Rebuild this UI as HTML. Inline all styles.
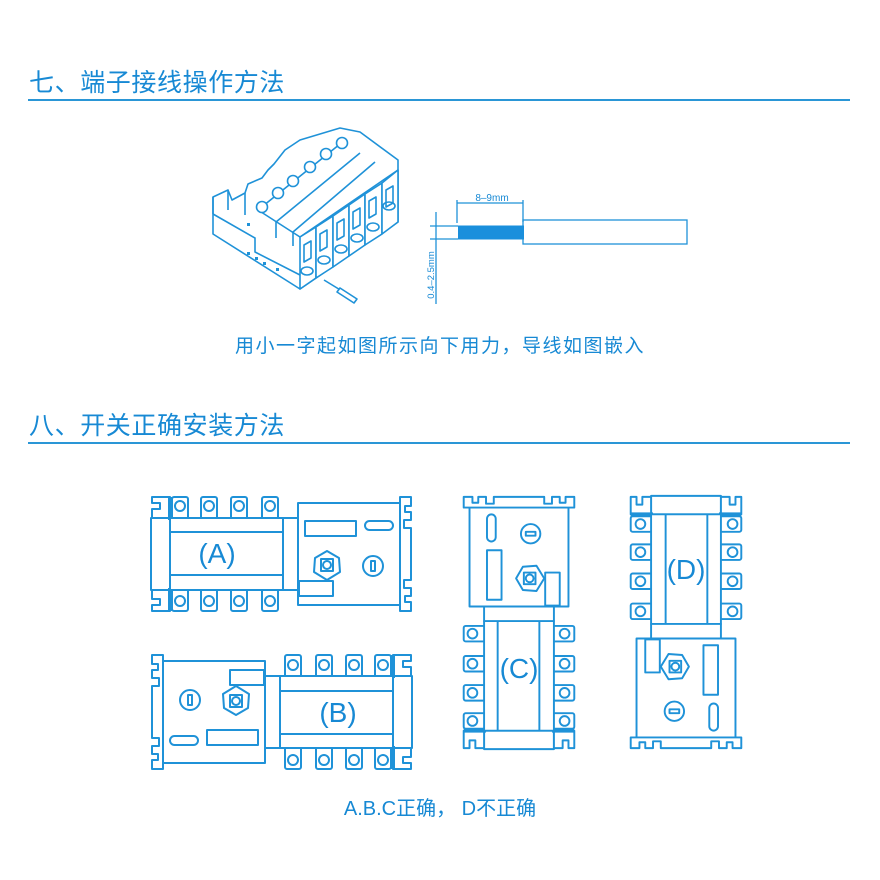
<!DOCTYPE html>
<html><head><meta charset="utf-8"><style>
html,body{margin:0;padding:0;background:#fff;}
svg{display:block;}
text{font-family:"Liberation Sans","Noto Sans CJK SC",sans-serif;fill:#1789d4;}
</style></head><body>
<svg width="880" height="880" viewBox="0 0 880 880" xmlns="http://www.w3.org/2000/svg">
<defs>
<g id="sw" fill="#fff" stroke="#1f92d8" stroke-width="2" stroke-linejoin="round">
  <rect x="151" y="518" width="19" height="72"/>
  <path d="M170,497 H152 V503 H160 V509 H152 V518 H170 Z"/>
  <path d="M170,611 H152 V605 H160 V599 H152 V590 H170 Z"/>
  <rect x="168" y="497" width="4" height="23" fill="#1f92d8" stroke="none"/>
  <rect x="168" y="588" width="4" height="23" fill="#1f92d8" stroke="none"/>
  <rect x="172" y="497" width="16" height="22" rx="2"/><circle cx="180" cy="506" r="5"/>
  <rect x="201" y="497" width="16" height="22" rx="2"/><circle cx="209" cy="506" r="5"/>
  <rect x="231" y="497" width="16" height="22" rx="2"/><circle cx="239" cy="506" r="5"/>
  <rect x="262" y="497" width="16" height="22" rx="2"/><circle cx="270" cy="506" r="5"/>
  <rect x="172" y="589" width="16" height="22" rx="2"/><circle cx="180" cy="601" r="5"/>
  <rect x="201" y="589" width="16" height="22" rx="2"/><circle cx="209" cy="601" r="5"/>
  <rect x="231" y="589" width="16" height="22" rx="2"/><circle cx="239" cy="601" r="5"/>
  <rect x="262" y="589" width="16" height="22" rx="2"/><circle cx="270" cy="601" r="5"/>
  <rect x="170" y="518" width="113" height="72"/>
  <line x1="170" y1="532" x2="283" y2="532"/>
  <line x1="170" y1="575" x2="283" y2="575"/>
  <rect x="283" y="518" width="15" height="72"/>
  <rect x="298" y="503" width="102" height="102"/>
  <rect x="305" y="521" width="51" height="15"/>
  <rect x="365" y="521" width="28" height="9" rx="4.5"/>
  <path d="M327,551 L339,558 L340,572 L327,580 L314,572 L315,558 Z"/>
  <rect x="321" y="559" width="12" height="12"/><circle cx="327" cy="565" r="4"/>
  <circle cx="373" cy="566" r="10"/><rect x="371" y="561" width="4" height="10"/>
  <rect x="299" y="581" width="34" height="15"/>
  <path d="M400,497 H411 V506 H405 V512 H411 V520 H404 V528 H411 V580 H404 V588 H411 V596 H405 V602 H411 V611 H400 Z"/>
</g>
</defs>

<text x="29" y="91" font-size="25" letter-spacing="0.6">七、端子接线操作方法</text>
<rect x="28" y="99" width="822" height="2" fill="#2a96d6"/>

<g fill="#fff" stroke="#1f92d8" stroke-width="1.6" stroke-linejoin="round">
  <path d="M213,197 L228,190 L232,200 L245,193 L248,184 L262,178 L268,170 L274,164 L285,150 L300,140 L340,128 L360,132 L398,160 L398,222 L300,289 L213,234 Z"/>
  <path d="M213,214 L255,238 L255,252 L300,275"/>
  <path d="M228,190 L228,210 M245,193 L245,215 M213,214 L213,197"/>
  <path d="M258,210 L300,237 L398,170"/>
  <path d="M258,210 L345,140"/>
  <path d="M276,222 L360,153 M293,232 L375,162"/>
  <path d="M276,222 L276,238 M293,232 L293,246"/>
  <circle cx="262" cy="207" r="5.5"/><circle cx="278" cy="193" r="5.5"/>
  <circle cx="293" cy="181" r="5.5"/><circle cx="310" cy="167" r="5.5"/>
  <circle cx="326" cy="154" r="5.5"/><circle cx="342" cy="143" r="5.5"/>
  <path d="M300,237 L316,227 L316,278 L300,289 Z"/>
  <path d="M316,227 L333,216 L333,267 L316,278 Z"/>
  <path d="M333,216 L349,205 L349,256 L333,267 Z"/>
  <path d="M349,205 L365,194 L365,245 L349,256 Z"/>
  <path d="M365,194 L382,183 L382,234 L365,245 Z"/>
  <path d="M382,183 L398,170 L398,222 L382,234 Z"/>
  <g fill="none">
    <path d="M304,245 L311,241 L311,258 L304,262 Z"/><ellipse cx="307" cy="271" rx="6" ry="4"/>
    <path d="M320,234 L327,230 L327,247 L320,251 Z"/><ellipse cx="324" cy="260" rx="6" ry="4"/>
    <path d="M337,223 L344,219 L344,236 L337,240 Z"/><ellipse cx="341" cy="249" rx="6" ry="4"/>
    <path d="M353,212 L360,208 L360,225 L353,229 Z"/><ellipse cx="357" cy="238" rx="6" ry="4"/>
    <path d="M369,201 L376,197 L376,214 L369,218 Z"/><ellipse cx="373" cy="227" rx="6" ry="4"/>
    <path d="M386,190 L393,186 L393,203 L386,207 Z"/><ellipse cx="389" cy="206" rx="6" ry="4"/>
  </g>
  <line x1="324" y1="280" x2="342" y2="291"/>
  <path d="M340,288 L357,299 L354,303 L337,292 Z"/>
</g>
<g fill="#1f92d8"><rect x="247" y="223" width="3" height="3"/><rect x="247" y="252" width="3" height="3"/><rect x="255" y="257" width="3" height="3"/><rect x="263" y="262" width="3" height="3"/><rect x="276" y="268" width="3" height="3"/></g>

<g stroke="#1f92d8" stroke-width="1.3" fill="none">
  <line x1="436" y1="212" x2="436" y2="304"/>
  <line x1="430" y1="226" x2="458" y2="226"/>
  <line x1="430" y1="239" x2="458" y2="239"/>
  <line x1="457" y1="200" x2="457" y2="223"/>
  <line x1="523" y1="200" x2="523" y2="222"/>
  <line x1="457" y1="203" x2="523" y2="203"/>
  <rect x="523" y="220" width="164" height="24"/>
</g>
<rect x="458" y="225.5" width="66" height="14" fill="#1a8fdc"/>
<text x="492" y="201" font-size="10" text-anchor="middle">8–9mm</text>
<text x="0" y="0" font-size="9.5" text-anchor="middle" transform="translate(434,275) rotate(-90)">0.4–2.5mm</text>

<text x="440" y="352" font-size="19" text-anchor="middle" letter-spacing="1.5">用小一字起如图所示向下用力，导线如图嵌入</text>

<text x="29" y="434" font-size="25" letter-spacing="0.6">八、开关正确安装方法</text>
<rect x="28" y="442" width="822" height="2" fill="#2a96d6"/>

<use href="#sw"/>
<use href="#sw" transform="rotate(180 281.5 633)"/>
<use href="#sw" transform="translate(519,623) scale(0.97) rotate(-90) translate(-281,-554)"/>
<use href="#sw" transform="translate(686,622) scale(0.97) rotate(90) translate(-281,-554)"/>

<text x="217" y="563" font-size="28" text-anchor="middle">(A)</text>
<text x="338" y="722" font-size="28" text-anchor="middle">(B)</text>
<text x="519" y="678" font-size="28" text-anchor="middle">(C)</text>
<text x="686" y="579" font-size="28" text-anchor="middle">(D)</text>

<text x="440" y="815" font-size="20" text-anchor="middle">A.B.C正确， D不正确</text>
</svg>
</body></html>
